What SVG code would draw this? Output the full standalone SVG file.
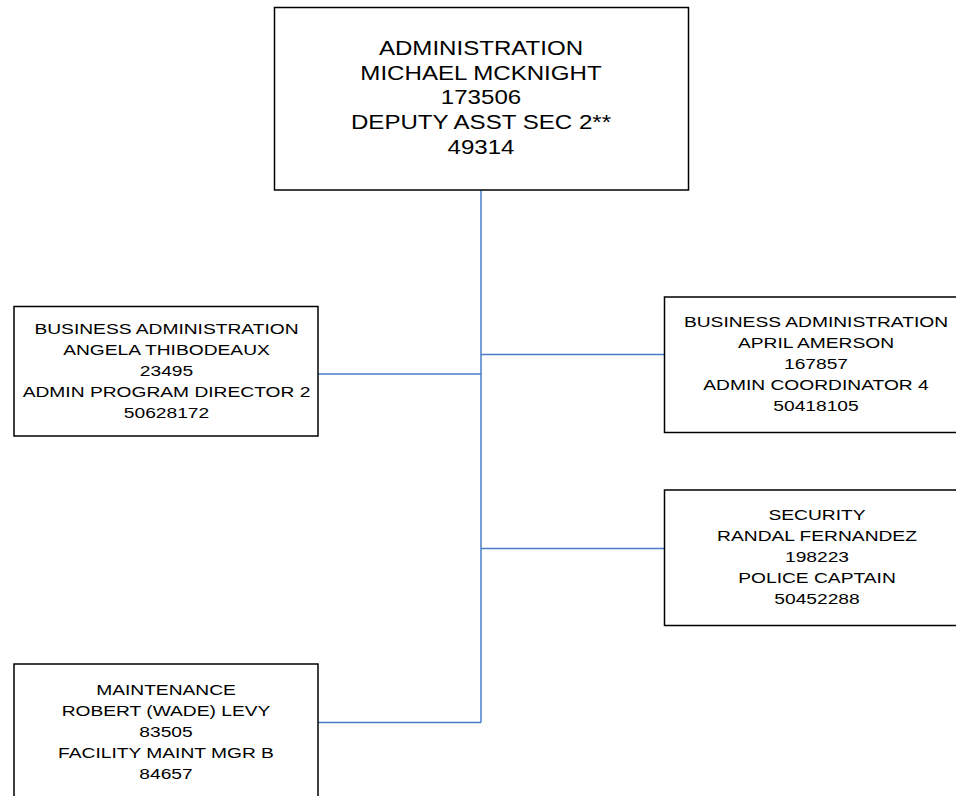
<svg xmlns="http://www.w3.org/2000/svg" width="956" height="796" viewBox="0 0 956 796">
<style>
.box{fill:#fff;stroke:#000;stroke-width:1.5}
.t{font-family:"Liberation Sans",Arial,sans-serif;fill:#000;text-anchor:middle}
.big{font-size:20.5px}
.sm{font-size:15.5px}
.c{fill:none;stroke:#4a7cc9;stroke-width:1.5}
</style>
<rect width="956" height="796" fill="#fff"/>
<g id="connectors">
<path class="c" d="M481 190V722.5"/>
<path class="c" d="M318 374H481"/>
<path class="c" d="M481 354.5H664"/>
<path class="c" d="M481 548.5H664"/>
<path class="c" d="M318 722.5H481"/>
</g>
<g id="n-admin">
<rect class="box" x="274.5" y="7.5" width="414" height="182.5"/>
<g transform="translate(481 0) scale(1.175 1)">
<text class="t big" x="0" y="55">ADMINISTRATION</text>
<text class="t big" x="0" y="79.7">MICHAEL MCKNIGHT</text>
<text class="t big" x="0" y="104.4">173506</text>
<text class="t big" x="0" y="129.1">DEPUTY ASST SEC 2**</text>
<text class="t big" x="0" y="153.8">49314</text>
</g>
</g>
<g id="n-bizadmin-left">
<rect class="box" x="14" y="306.5" width="304" height="129.5"/>
<g transform="translate(166.5 0) scale(1.24 1)">
<text class="t sm" x="0" y="334">BUSINESS ADMINISTRATION</text>
<text class="t sm" x="0" y="355">ANGELA THIBODEAUX</text>
<text class="t sm" x="0" y="376">23495</text>
<text class="t sm" x="0" y="397">ADMIN PROGRAM DIRECTOR 2</text>
<text class="t sm" x="0" y="418">50628172</text>
</g>
</g>
<g id="n-bizadmin-right">
<rect class="box" x="664.5" y="297" width="305" height="135.5"/>
<g transform="translate(816 0) scale(1.24 1)">
<text class="t sm" x="0" y="327">BUSINESS ADMINISTRATION</text>
<text class="t sm" x="0" y="348">APRIL AMERSON</text>
<text class="t sm" x="0" y="369">167857</text>
<text class="t sm" x="0" y="390">ADMIN COORDINATOR 4</text>
<text class="t sm" x="0" y="411">50418105</text>
</g>
</g>
<g id="n-security">
<rect class="box" x="664.5" y="490" width="305" height="135.5"/>
<g transform="translate(817 0) scale(1.24 1)">
<text class="t sm" x="0" y="520.5">SECURITY</text>
<text class="t sm" x="0" y="541.5">RANDAL FERNANDEZ</text>
<text class="t sm" x="0" y="562.5">198223</text>
<text class="t sm" x="0" y="583.5">POLICE CAPTAIN</text>
<text class="t sm" x="0" y="604.5">50452288</text>
</g>
</g>
<g id="n-maintenance">
<rect class="box" x="14" y="664" width="304" height="150"/>
<g transform="translate(166 0) scale(1.24 1)">
<text class="t sm" x="0" y="695">MAINTENANCE</text>
<text class="t sm" x="0" y="716">ROBERT (WADE) LEVY</text>
<text class="t sm" x="0" y="737">83505</text>
<text class="t sm" x="0" y="758">FACILITY MAINT MGR B</text>
<text class="t sm" x="0" y="779">84657</text>
</g>
</g>
</svg>
